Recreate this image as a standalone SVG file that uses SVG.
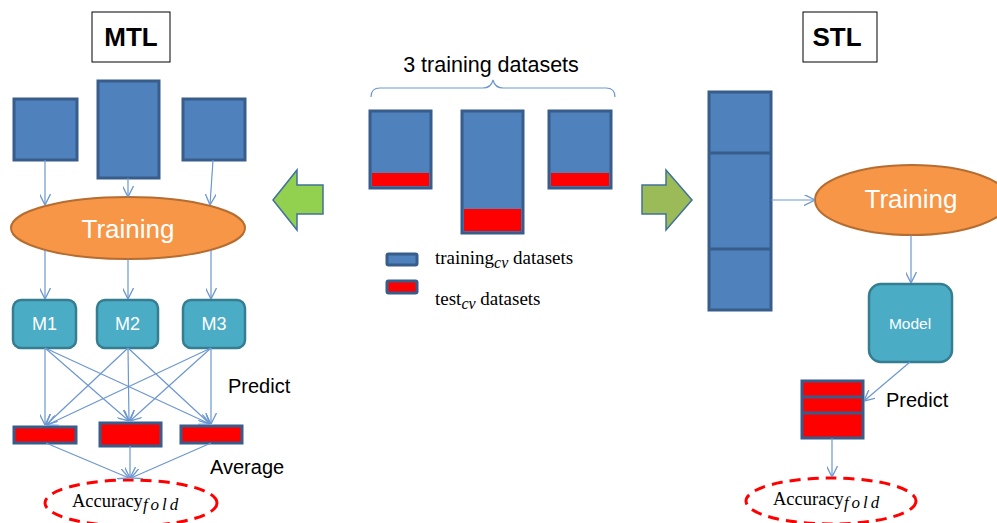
<svg xmlns="http://www.w3.org/2000/svg" width="997" height="523" viewBox="0 0 997 523">
<style>
.blk{fill:#4F81BD;stroke:#385D8A;stroke-width:3}
.red{fill:#FF0000;stroke:#385D8A;stroke-width:3}
.ell{fill:#F79646;stroke:#B66D31;stroke-width:2}
.mod{fill:#4BACC6;stroke:#357D91;stroke-width:2.5}
.acc{fill:none;stroke:#FF0000;stroke-width:3;stroke-dasharray:11 7}
.lbl{fill:none;stroke:#000;stroke-width:1}
.conn line, .conn path{stroke:#6C97D0;stroke-width:1.2;fill:none}
.sans{font-family:"Liberation Sans",Arial,sans-serif}
.serif{font-family:"Liberation Serif","Times New Roman",serif;fill:#000}
.wt{fill:#fff}
</style>
<defs>
<marker id="ah" viewBox="0 0 10 10" refX="10" refY="5" markerWidth="11" markerHeight="11" markerUnits="userSpaceOnUse" orient="auto">
<path d="M0,0 L10,5 L0,10" fill="none" stroke="#6C97D0" stroke-width="1.2"/>
</marker>
</defs>
<rect width="997" height="523" fill="#fff"/>

<g id="mtl-label"><rect class="lbl" x="92" y="12" width="78" height="50" fill="#fff"/><text class="sans" x="131" y="46" font-size="26" font-weight="bold" text-anchor="middle">MTL</text></g>
<g id="stl-label"><rect class="lbl" x="803" y="12" width="74" height="50" fill="#fff"/><text class="sans" x="837" y="46" font-size="26" font-weight="bold" text-anchor="middle">STL</text></g>

<g id="mtl-d1"><rect class="blk" x="14" y="99" width="63" height="61"/></g>
<g id="mtl-d2"><rect class="blk" x="98" y="81" width="61" height="97"/></g>
<g id="mtl-d3"><rect class="blk" x="183" y="99" width="62" height="61"/></g>

<g id="mtl-training"><ellipse class="ell" cx="128" cy="228" rx="117" ry="31"/><text class="sans wt" x="128" y="238" font-size="26" text-anchor="middle">Training</text></g>

<g id="m1"><rect class="mod" x="13" y="300" width="63" height="48" rx="8"/><text class="sans wt" x="44.5" y="330" font-size="18" text-anchor="middle">M1</text></g>
<g id="m2"><rect class="mod" x="97" y="300" width="61" height="48" rx="8"/><text class="sans wt" x="127.5" y="330" font-size="18" text-anchor="middle">M2</text></g>
<g id="m3"><rect class="mod" x="183" y="300" width="62" height="48" rx="8"/><text class="sans wt" x="214" y="330" font-size="18" text-anchor="middle">M3</text></g>

<g id="mtl-r1"><rect class="red" x="14" y="427" width="62" height="16"/></g>
<g id="mtl-r2"><rect class="red" x="100" y="423" width="61" height="23"/></g>
<g id="mtl-r3"><rect class="red" x="181" y="426" width="61" height="17"/></g>

<g id="mtl-acc"><ellipse class="acc" cx="131" cy="503" rx="86" ry="23"/><text class="serif" x="72" y="507" font-size="18.5">Accuracy<tspan font-style="italic" font-size="17" dy="3" letter-spacing="3">fold</tspan></text></g>

<text class="sans" x="228" y="393" font-size="20">Predict</text>
<text class="sans" x="210" y="474" font-size="20">Average</text>

<g id="arrow-left"><path d="M273,200 L297,170 L297,185 L323,185 L323,214 L297,214 L297,230 Z" fill="#92D050" stroke="#41719C" stroke-width="1.5"/></g>
<g id="arrow-right"><path d="M692,200 L666,170 L666,185 L642,185 L642,214 L666,214 L666,230 Z" fill="#9BBB59" stroke="#41719C" stroke-width="1.5"/></g>

<g id="center-sets">
<text class="sans" x="491" y="72" font-size="21.5" text-anchor="middle">3 training datasets</text>
<path d="M371,97 Q371,88 380,88 L483,88 Q491,88 493,80 Q495,88 503,88 L606,88 Q615,88 615,97" fill="none" stroke="#6C97D0" stroke-width="1.2"/>
</g>
<g id="set-a"><rect class="blk" x="370" y="111" width="61" height="77"/><rect x="372" y="173" width="57" height="13" fill="#FF0000"/></g>
<g id="set-b"><rect class="blk" x="462" y="111" width="61" height="122"/><rect x="464" y="209" width="57" height="22" fill="#FF0000"/></g>
<g id="set-c"><rect class="blk" x="549" y="111" width="62" height="77"/><rect x="551" y="173" width="58" height="13" fill="#FF0000"/></g>

<g id="legend">
<rect class="blk" x="387" y="254" width="30" height="11" rx="1.5"/>
<rect class="red" x="387" y="281" width="30" height="12" rx="1.5"/>
<text class="serif" x="435" y="264" font-size="19">training<tspan font-style="italic" font-size="16" dy="4">cv</tspan><tspan dy="-4"> datasets</tspan></text>
<text class="serif" x="435" y="305" font-size="19">test<tspan font-style="italic" font-size="16" dy="4">cv</tspan><tspan dy="-4"> datasets</tspan></text>
</g>

<g id="stl-column"><rect class="blk" x="709" y="92" width="62" height="218"/><line x1="709" y1="153" x2="771" y2="153" stroke="#385D8A" stroke-width="3"/><line x1="709" y1="249" x2="771" y2="249" stroke="#385D8A" stroke-width="3"/></g>

<g id="stl-training"><ellipse class="ell" cx="912" cy="200" rx="97" ry="35"/><text class="sans wt" x="911" y="208" font-size="26" text-anchor="middle">Training</text></g>

<g id="model"><rect class="mod" x="869" y="284" width="83" height="78" rx="12"/><text class="sans wt" x="910" y="329" font-size="15.5" text-anchor="middle">Model</text></g>

<g id="stl-stack"><rect class="red" x="802" y="381" width="61" height="57"/><line x1="802" y1="397" x2="863" y2="397" stroke="#385D8A" stroke-width="3"/><line x1="802" y1="413" x2="863" y2="413" stroke="#385D8A" stroke-width="3"/></g>

<text class="sans" x="886" y="407" font-size="20">Predict</text>

<g id="stl-acc"><ellipse class="acc" cx="831" cy="501" rx="85" ry="23"/><text class="serif" x="773" y="505" font-size="18.5">Accuracy<tspan font-style="italic" font-size="17" dy="3" letter-spacing="3">fold</tspan></text></g>

<g class="conn" id="connectors">
<line x1="45" y1="160" x2="45" y2="205" marker-end="url(#ah)"/>
<line x1="128" y1="178" x2="128" y2="197" marker-end="url(#ah)"/>
<line x1="213" y1="160" x2="210" y2="205" marker-end="url(#ah)"/>
<line x1="45" y1="250" x2="45" y2="299" marker-end="url(#ah)"/>
<line x1="128" y1="259" x2="128" y2="299" marker-end="url(#ah)"/>
<line x1="211" y1="250" x2="211" y2="299" marker-end="url(#ah)"/>
<line x1="45" y1="348" x2="45" y2="425" marker-end="url(#ah)"/>
<line x1="45" y1="348" x2="129" y2="421" marker-end="url(#ah)"/>
<line x1="45" y1="348" x2="210" y2="424" marker-end="url(#ah)"/>
<line x1="128" y1="348" x2="46" y2="425" marker-end="url(#ah)"/>
<line x1="128" y1="348" x2="129" y2="421" marker-end="url(#ah)"/>
<line x1="128" y1="348" x2="210" y2="424" marker-end="url(#ah)"/>
<line x1="211" y1="348" x2="47" y2="425" marker-end="url(#ah)"/>
<line x1="211" y1="348" x2="130" y2="421" marker-end="url(#ah)"/>
<line x1="211" y1="348" x2="211" y2="424" marker-end="url(#ah)"/>
<line x1="46" y1="443" x2="129" y2="478" marker-end="url(#ah)"/>
<line x1="130" y1="446" x2="130" y2="478" marker-end="url(#ah)"/>
<line x1="211" y1="443" x2="131" y2="478" marker-end="url(#ah)"/>
<line x1="771" y1="200" x2="815" y2="200" marker-end="url(#ah)"/>
<line x1="911" y1="235" x2="911" y2="283" marker-end="url(#ah)"/>
<line x1="910" y1="362" x2="864" y2="401" marker-end="url(#ah)"/>
<line x1="832" y1="438" x2="832" y2="477" marker-end="url(#ah)"/>
</g>
</svg>
